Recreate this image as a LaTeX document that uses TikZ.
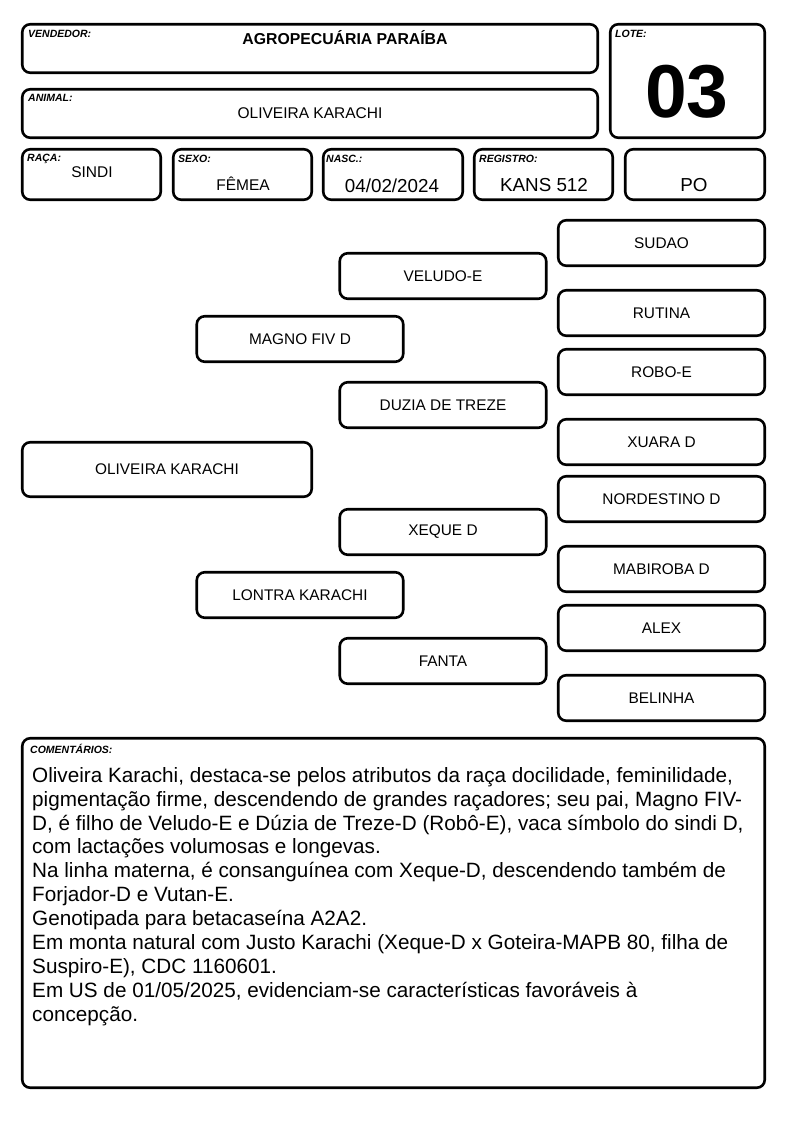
\documentclass[tikz,border=0pt]{standalone}
\usepackage{fontspec}
\setmainfont{Liberation Sans}
\begin{document}
\begin{tikzpicture}[x=1pt,y=-1pt,
  box/.style={draw, line width=2.6pt, rounded corners=8pt, inner sep=0pt, outer sep=0pt},
  ped/.style={box, minimum width=206.5pt, minimum height=45.5pt, font=\fontsize{15.4}{18}\selectfont},
  hdr/.style={box, minimum width=138.5pt, minimum height=50.5pt},
  tag/.style={anchor=north west, inner sep=0pt, font=\fontsize{10.5}{12}\selectfont\bfseries\itshape},
  val/.style={inner sep=0pt, font=\fontsize{15.5}{18}\selectfont},
  bigval/.style={inner sep=0pt, font=\fontsize{18.8}{22}\selectfont}]
\useasboundingbox (0,0) rectangle (794,1123);
% header
\node[box, minimum width=575.5pt, minimum height=48.5pt] (vend) at (310,48.5) {};
\node[tag] (vendtag) at (28,30) {VENDEDOR:};
\node[inner sep=0pt, font=\fontsize{15.8}{18}\selectfont\bfseries] (vendval) at (345,38) {AGROPECUÁRIA PARAÍBA};
\node[box, minimum width=575.5pt, minimum height=48.5pt] (anim) at (310,113.5) {};
\node[tag] (animtag) at (28,94) {ANIMAL:};
\node[val] (animval) at (310,113) {OLIVEIRA KARACHI};
\node[box, minimum width=154.5pt, minimum height=113.5pt] (lote) at (687.5,81) {};
\node[tag] (lotetag) at (615,30) {LOTE:};
\node[inner sep=0pt, font=\fontsize{75}{80}\selectfont\bfseries] (loteval) at (687,92) {03};
\node[hdr] (raca) at (91.5,174.5) {};
\node[tag] (racatag) at (27,154) {RAÇA:};
\node[val] (racaval) at (92,172) {SINDI};
\node[hdr] (sexo) at (242.5,174.5) {};
\node[tag] (sexotag) at (178,155) {SEXO:};
\node[val] (sexoval) at (243,184) {FÊMEA};
\node[hdr, minimum width=139.5pt] (nasc) at (393,174.5) {};
\node[tag] (nasctag) at (326,155) {NASC.:};
\node[bigval] (nascval) at (392,185.5) {04/02/2024};
\node[hdr] (reg) at (543.5,174.5) {};
\node[tag] (regtag) at (479,155) {REGISTRO:};
\node[bigval] (regval) at (544,185.5) {KANS 512};
\node[hdr, minimum width=139.5pt] (po) at (695,174.5) {};
\node[bigval] (poval) at (694,185.5) {PO};
% pedigree
\node[box, minimum width=289.5pt, minimum height=54.5pt, font=\fontsize{15.4}{18}\selectfont] (prob) at (167,469.5) {OLIVEIRA KARACHI};
\node[ped] (magno) at (300,339) {MAGNO FIV D};
\node[ped] (lontra) at (300,595) {LONTRA KARACHI};
\node[ped] (veludo) at (443,276) {VELUDO-E};
\node[ped] (duzia) at (443,405) {DUZIA DE TREZE};
\node[ped] (xeque) at (443,532) {XEQUE D};
\node[ped] (fanta) at (443,661) {FANTA};
\node[ped] (sudao) at (661.5,243) {SUDAO};
\node[ped] (rutina) at (661.5,313) {RUTINA};
\node[ped] (robo) at (661.5,372) {ROBO-E};
\node[ped] (xuara) at (661.5,442) {XUARA D};
\node[ped] (nordestino) at (661.5,499) {NORDESTINO D};
\node[ped] (mabiroba) at (661.5,569) {MABIROBA D};
\node[ped] (alex) at (661.5,628) {ALEX};
\node[ped] (belinha) at (661.5,698) {BELINHA};
% comments
\node[box, minimum width=742.5pt, minimum height=349.5pt] (com) at (393.5,913) {};
\node[tag] (comtag) at (30,744) {COMENTÁRIOS:};
\node[anchor=north west, inner sep=0pt, align=left, font=\fontsize{20.7}{23.9}\selectfont] (comtext) at (32,767) {Oliveira Karachi, destaca-se pelos atributos da raça docilidade, feminilidade,\\
pigmentação firme, descendendo de grandes raçadores; seu pai, Magno FIV-\\
D, é filho de Veludo-E e Dúzia de Treze-D (Robô-E), vaca símbolo do sindi D,\\
com lactações volumosas e longevas.\\
Na linha materna, é consanguínea com Xeque-D, descendendo também de\\
Forjador-D e Vutan-E.\\
Genotipada para betacaseína A2A2.\\
Em monta natural com Justo Karachi (Xeque-D x Goteira-MAPB 80, filha de\\
Suspiro-E), CDC 1160601.\\
Em US de 01/05/2025, evidenciam-se características favoráveis à\\
concepção.};
\end{tikzpicture}
\end{document}
